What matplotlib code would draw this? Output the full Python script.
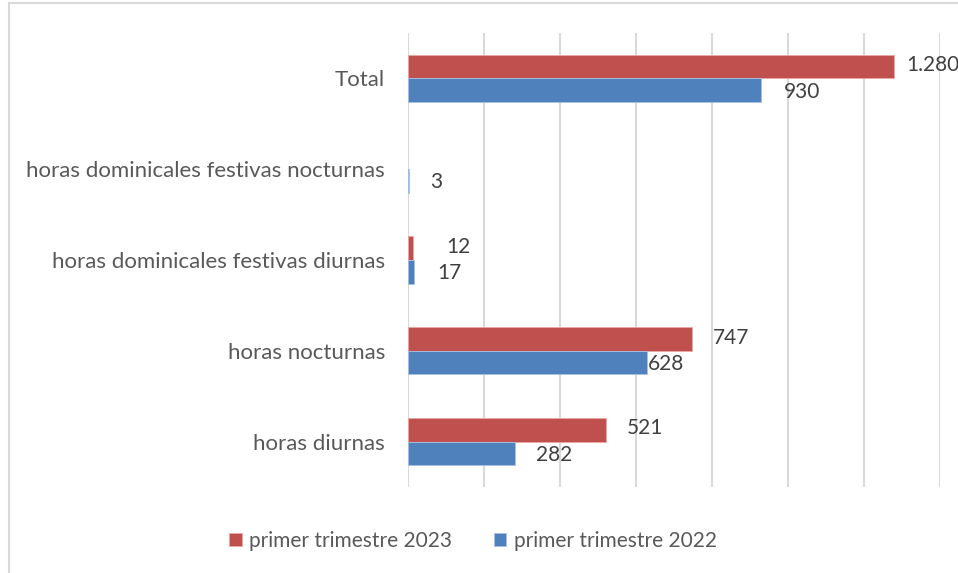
import matplotlib
matplotlib.use("Agg")
import matplotlib.pyplot as plt
from matplotlib.patches import Rectangle
import numpy as np

# datos
categorias = ["horas diurnas", "horas nocturnas", "horas dominicales festivas diurnas",
              "horas dominicales festivas nocturnas", "Total"]
v2023 = [521, 747, 12, 0, 1280]
v2022 = [282, 628, 17, 3, 930]
series = ["primer trimestre 2023", "primer trimestre 2022"]

# desplazamiento de etiquetas (px), como en el original
dx2023 = [21, 21, 34, None, 12]
dx2022 = [21, 1, 23, 21, 22]

rojo = "#C0504D"
azul = "#4F81BD"
plt.rcParams['font.family'] = ['Lato', 'DejaVu Sans']

fig = plt.figure(figsize=(9.58, 5.73), dpi=100)
fig.patches.append(Rectangle((9/958, -0.1), 1.2, 1.1 - 3/573, transform=fig.transFigure,
                             fill=False, edgecolor="#D9D9D9", linewidth=1.5))
ax = fig.add_axes([408/958, 1 - 487/573, 532/958, 454/573])

y = np.arange(len(categorias))
h = 0.26
b1 = ax.barh(y + h/2, v2023, height=h, color=rojo, edgecolor="#E8A8A6", linewidth=0.6, label=series[0], zorder=3)
b2 = ax.barh(y - h/2, v2022, height=h, color=azul, edgecolor="#A9C1E0", linewidth=0.6, label=series[1], zorder=3)
for bar, v in zip(list(b1) + list(b2), v2023 + v2022):
    if v == 0:
        bar.set_linewidth(0)

def fmt(v):
    return f"{v:,}".replace(",", ".")

for yi, v, d in zip(y + h/2, v2023, dx2023):
    if d is None:
        continue
    ax.annotate(fmt(v), (v, yi), xytext=(d * 0.72, 1), textcoords="offset points",
                va="center", ha="left", fontsize=15, color="#404040", annotation_clip=False)
for yi, v, d in zip(y - h/2, v2022, dx2022):
    ax.annotate(fmt(v), (v, yi), xytext=(d * 0.72, -1), textcoords="offset points",
                va="center", ha="left", fontsize=15, color="#404040", annotation_clip=False)

ax.set_xlim(0, 1400)
ax.set_ylim(-0.5, len(categorias) - 0.5)
ax.set_xticks(np.arange(0, 1401, 200))
ax.xaxis.grid(True, color="#D9D9D9", linewidth=1.5, zorder=0)
ax.tick_params(axis="x", length=0, labelbottom=False)
ax.tick_params(axis="y", length=0, pad=16.5, labelsize=16, labelcolor="#595959")
ax.set_yticks(y)
ax.set_yticklabels(categorias)
for s in ax.spines.values():
    s.set_visible(False)

ax.legend(loc="center", bbox_to_anchor=(473/958, 1 - 541/573), bbox_transform=fig.transFigure,
          ncol=2, frameon=False, fontsize=15, handlelength=0.6, handleheight=0.6,
          handletextpad=0.35, columnspacing=2.0, labelcolor="#595959")

fig.savefig("out.png", dpi=100)
